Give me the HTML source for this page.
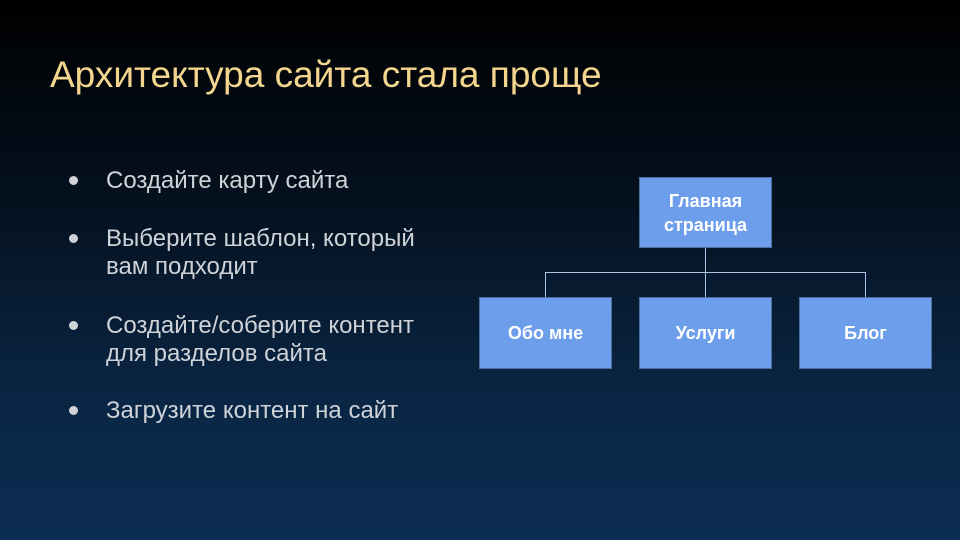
<!DOCTYPE html>
<html><head><meta charset="utf-8"><style>
body{margin:0;width:960px;height:540px;overflow:hidden;background:linear-gradient(to bottom,#000000 0%,#04101d 35%,#0a2645 75%,#0b2d52 100%);font-family:"Liberation Sans",sans-serif;position:relative}
.t{position:absolute;left:50px;top:54px;font-size:37px;color:#f5d68f;white-space:nowrap}
.b{position:absolute;left:106px;font-size:24px;color:#cfd3d8;line-height:28px;white-space:nowrap}
.d{position:absolute;left:69px;width:9px;height:9px;border-radius:50%;background:#cfd3d8}
.box{position:absolute;background:#6d9eeb;border:1px solid #4a6f9e;box-sizing:border-box;color:#fff;font-weight:bold;font-size:18px;display:flex;align-items:center;justify-content:center;text-align:center;line-height:24px}
.l{position:absolute;background:#a9c4e6}
</style></head><body>
<div class="t">Архитектура сайта стала проще</div>
<div class="d" style="top:176px"></div><div class="b" style="top:167px">Создайте карту сайта</div>
<div class="d" style="top:234px"></div><div class="b" style="top:225px">Выберите шаблон, который<br>вам подходит</div>
<div class="d" style="top:321px"></div><div class="b" style="top:312px">Создайте/соберите контент<br>для разделов сайта</div>
<div class="d" style="top:406px"></div><div class="b" style="top:397px">Загрузите контент на сайт</div>
<div class="l" style="left:705px;top:248px;width:1px;height:49px"></div>
<div class="l" style="left:545px;top:272px;width:321px;height:1px"></div>
<div class="l" style="left:545px;top:272px;width:1px;height:25px"></div>
<div class="l" style="left:865px;top:272px;width:1px;height:25px"></div>
<div class="box" style="left:639px;top:177px;width:133px;height:71px">Главная<br>страница</div>
<div class="box" style="left:479px;top:297px;width:133px;height:72px">Обо мне</div>
<div class="box" style="left:639px;top:297px;width:133px;height:72px">Услуги</div>
<div class="box" style="left:799px;top:297px;width:133px;height:72px">Блог</div>
</body></html>
